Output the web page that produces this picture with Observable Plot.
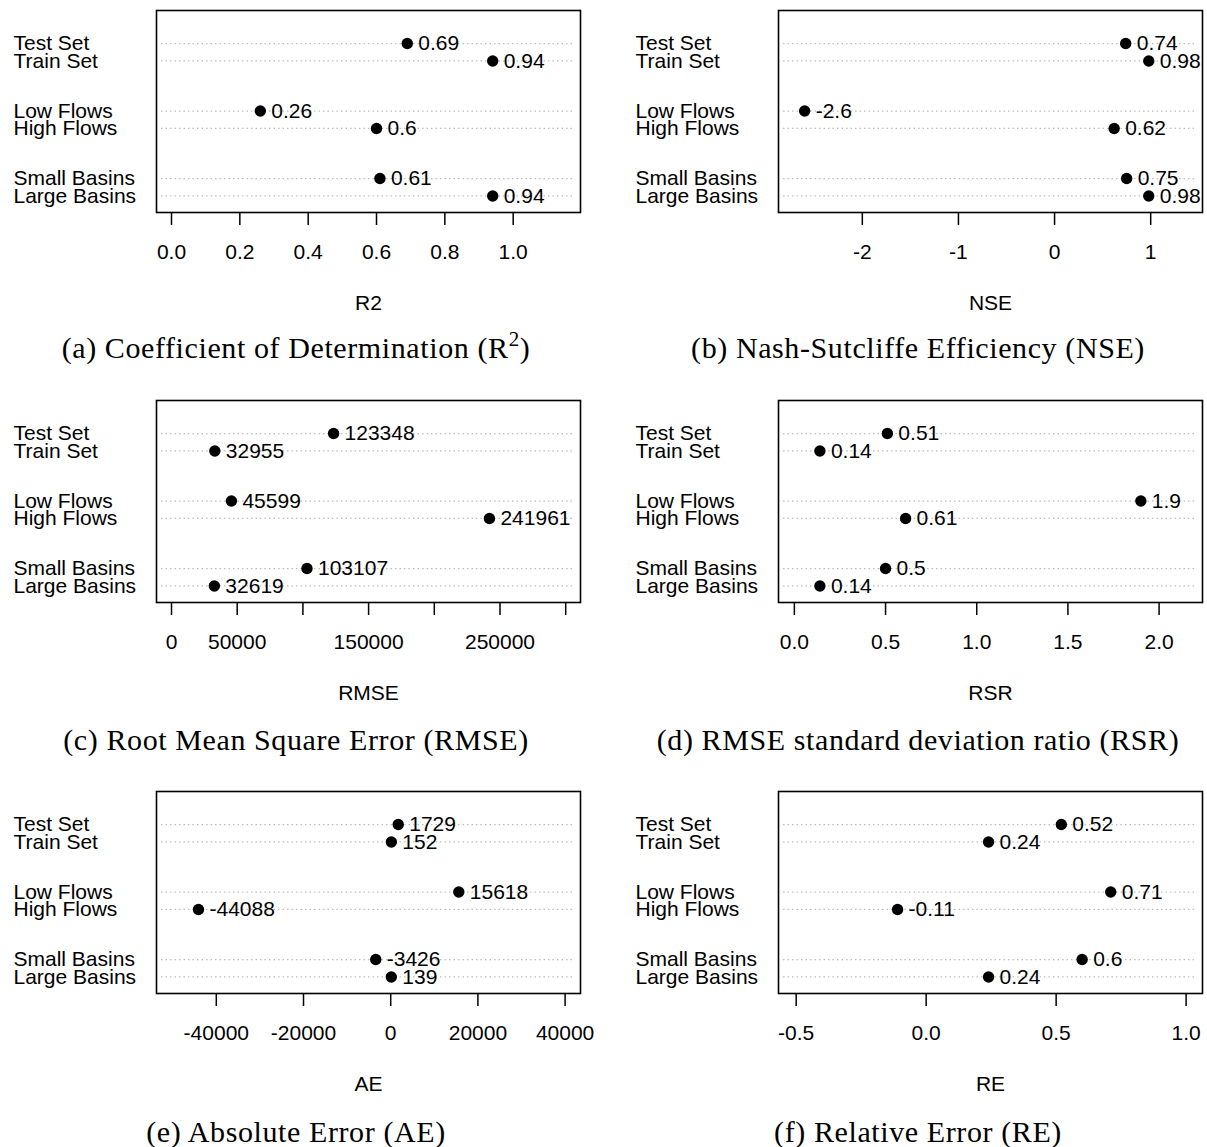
<!DOCTYPE html>
<html><head><meta charset="utf-8">
<script src="https://cdn.jsdelivr.net/npm/d3@7"></script>
<script src="https://cdn.jsdelivr.net/npm/@observablehq/plot@0.6"></script>
<style>
body{margin:0;background:#fff;}
#wrap{position:relative;width:1207px;height:1147px;overflow:hidden;background:#fff;}
.panel{position:absolute;}
.panel svg{overflow:visible;}
.cap{position:absolute;font-family:"Liberation Serif",serif;font-size:30px;white-space:nowrap;transform:translate(-50%,-50%);color:#000;letter-spacing:0.6px;line-height:1.15;}
.cap sup{font-size:0.7em;line-height:0;vertical-align:0.55em;}
</style></head><body><div id="wrap"></div>
<script>
const categories = ["Test Set","Train Set","Low Flows","High Flows","Small Basins","Large Basins"];

const r2Values   = [0.69, 0.94, 0.26, 0.6, 0.61, 0.94];
const nseValues  = [0.74, 0.98, -2.6, 0.62, 0.75, 0.98];
const rmseValues = [123348, 32955, 45599, 241961, 103107, 32619];
const rsrValues  = [0.51, 0.14, 1.9, 0.61, 0.5, 0.14];
const aeValues   = [1729, 152, 15618, -44088, -3426, 139];
const reValues   = [0.52, 0.24, 0.71, -0.11, 0.6, 0.24];

const r2Ticks = [0, 0.2, 0.4, 0.6, 0.8, 1.0];
const r2TickLabels = ["0.0","0.2","0.4","0.6","0.8","1.0"];
const nseTicks = [-2, -1, 0, 1];
const nseTickLabels = ["-2","-1","0","1"];
const rmseTicks = [0, 50000, 100000, 150000, 200000, 250000, 300000];
const rmseTickLabels = ["0","50000","","150000","","250000",""];
const rsrTicks = [0, 0.5, 1, 1.5, 2];
const rsrTickLabels = ["0.0","0.5","1.0","1.5","2.0"];
const aeTicks = [-40000, -20000, 0, 20000, 40000];
const aeTickLabels = ["-40000","-20000","0","20000","40000"];
const reTicks = [-0.5, 0, 0.5, 1];
const reTickLabels = ["-0.5","0.0","0.5","1.0"];

const axisTitles = ["R2","NSE","RMSE","RSR","AE","RE"];
const captions = [
  "(a) Coefficient of Determination (R<sup>2</sup>)",
  "(b) Nash-Sutcliffe Efficiency (NSE)",
  "(c) Root Mean Square Error (RMSE)",
  "(d) RMSE standard deviation ratio (RSR)",
  "(e) Absolute Error (AE)",
  "(f) Relative Error (RE)"
];

const panels = [
  {values: r2Values,   ticks: r2Ticks,   tickLabels: r2TickLabels,   domain: [-0.0439, 1.197]},
  {values: nseValues,  ticks: nseTicks,  tickLabels: nseTickLabels,  domain: [-2.872, 1.539]},
  {values: rmseValues, ticks: rmseTicks, tickLabels: rmseTickLabels, domain: [-11415, 311263]},
  {values: rsrValues,  ticks: rsrTicks,  tickLabels: rsrTickLabels,  domain: [-0.087, 2.238]},
  {values: aeValues,   ticks: aeTicks,   tickLabels: aeTickLabels,   domain: [-53716, 43532]},
  {values: reValues,   ticks: reTicks,   tickLabels: reTickLabels,   domain: [-0.568, 1.063]}
];

const FONT = "Liberation Sans, Arial, Helvetica, sans-serif";
const FS = 21;

function makePanel(p, title) {
  const data = categories.map((c, i) => ({cat: c, v: p.values[i], pos: i + 1.88 * Math.floor(i / 2)}));
  const fmt = new Map(p.ticks.map((t, i) => [t, p.tickLabels[i]]));
  return Plot.plot({
    width: 585, height: 330,
    marginLeft: 156, marginRight: 5, marginTop: 10, marginBottom: 118,
    style: {fontFamily: FONT, fontSize: FS + "px", color: "black", background: "transparent", overflow: "visible"},
    x: {domain: p.domain, label: null},
    y: {domain: [-1.9, 9.71], reverse: true, axis: null},
    marks: [
      Plot.ruleY(data, {y: "pos", stroke: "#bdbdbd", strokeWidth: 1.2, strokeDasharray: "1.5,3", insetLeft: 5, insetRight: 5}),
      Plot.frame({stroke: "black", strokeWidth: 1.6}),
      Plot.axisX(p.ticks, {tickSize: 13, tickPadding: 19, tickFormat: d => fmt.get(d), fontSize: FS, strokeWidth: 1.5, label: null}),
      Plot.dot(data, {x: "v", y: "pos", r: 5.7, fill: "black"}),
      Plot.text(data, {x: "v", y: "pos", text: d => String(d.v), textAnchor: "start", dx: 11, fontSize: FS}),
      Plot.text(data, {y: "pos", text: "cat", frameAnchor: "left", textAnchor: "start", dx: -143, fontSize: FS}),
      Plot.text([title], {frameAnchor: "bottom", dy: 91, fontSize: FS, lineAnchor: "middle"})
    ]
  });
}

const wrap = document.getElementById("wrap");
const colX = [0, 622];
const rowY = [0, 390, 781];
const capX = [296, 918];
const capY = [348, 740, 1132];

panels.forEach((p, k) => {
  const col = k % 2, row = Math.floor(k / 2);
  const div = document.createElement("div");
  div.className = "panel";
  div.style.left = colX[col] + "px";
  div.style.top = rowY[row] + "px";
  div.appendChild(makePanel(p, axisTitles[k]));
  wrap.appendChild(div);
  const cap = document.createElement("div");
  cap.className = "cap";
  cap.style.left = capX[col] + "px";
  cap.style.top = capY[row] + "px";
  cap.innerHTML = captions[k];
  wrap.appendChild(cap);
});
</script>
</body></html>
